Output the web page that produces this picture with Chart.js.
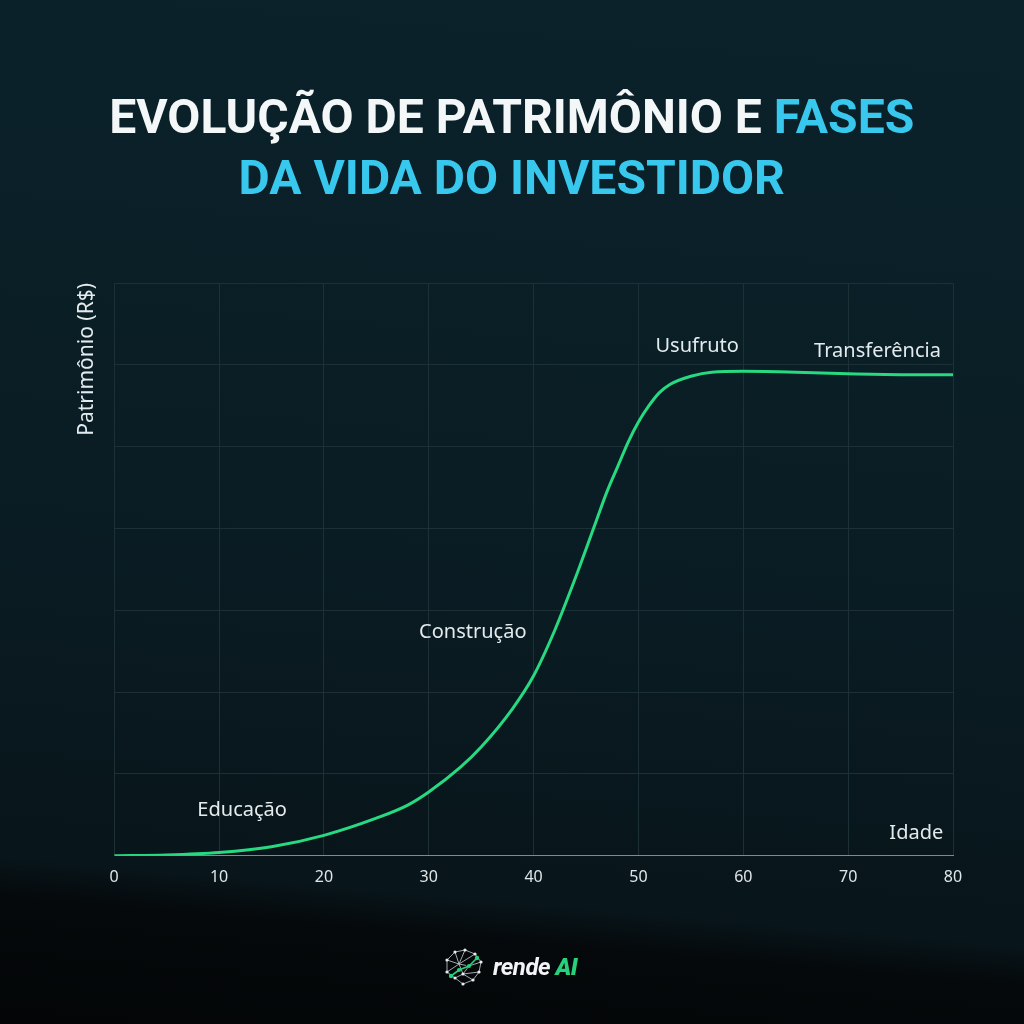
<!DOCTYPE html>
<html>
<head>
<meta charset="utf-8">
<script src="https://cdn.jsdelivr.net/npm/chart.js@4.4.1/dist/chart.umd.min.js"></script>
<style>
  html, body { margin: 0; padding: 0; }
  body {
    width: 1024px; height: 1024px; overflow: hidden; position: relative;
    background: linear-gradient(185deg, #0b222b 0%, #0a1c23 55%, #08151a 85%, #05090b 88.5%, #030506 100%);
    font-family: Roboto, "Noto Sans", sans-serif;
  }
  #title {
    position: absolute; left: 0; top: 86px; width: 1024px; text-align: center;
    font-weight: 700; font-size: 49px; line-height: 61px; color: #f4f7f8;
  }
  #title .ln { display: inline-block; transform: scaleX(0.98); white-space: nowrap; }
  #title .hl { color: #38c8ee; }
  #chart { position: absolute; left: 0; top: 0; }
  #logo {
    position: absolute; left: 441px; top: 946px; height: 42px;
    display: flex; align-items: center; gap: 4px;
  }
  #logo span { font-family: Roboto, sans-serif; font-style: italic; font-weight: 700; font-size: 24px; color: #f2f4f5; letter-spacing: -0.5px; }
  #logo span b { color: #27d07a; }
</style>
</head>
<body>
<div id="title">
  <span class="ln">EVOLUÇÃO DE PATRIMÔNIO E <span class="hl">FASES</span></span><br>
  <span class="ln hl">DA VIDA DO INVESTIDOR</span>
</div>
<canvas id="chart" width="1024" height="1024"></canvas>
<div id="logo">
  <svg width="48" height="42" viewBox="0 0 48 42">
    <g stroke="#c9d0d3" stroke-width="0.8" fill="none">
      <path d="M6 14 L14 6 L24 4 L34 8 L40 16 L38 26 L32 34 L22 38 L14 32 L6 26 Z"/>
      <path d="M14 6 L18 18 L24 4 M18 18 L34 8 M18 18 L6 26 M18 18 L22 28 L32 34 M22 28 L14 32 M22 28 L38 26 M18 18 L28 20 L40 16 M28 20 L22 28 M6 14 L18 18"/>
    </g>
    <g stroke="#27d07a" stroke-width="1.6"><path d="M10 30 L18 24 L28 20 L36 12"/></g>
    <g fill="#e8ecee">
      <circle cx="6" cy="14" r="1.6"/><circle cx="14" cy="6" r="1.6"/><circle cx="24" cy="4" r="1.6"/>
      <circle cx="34" cy="8" r="1.6"/><circle cx="40" cy="16" r="1.6"/><circle cx="38" cy="26" r="1.6"/>
      <circle cx="32" cy="34" r="1.6"/><circle cx="22" cy="38" r="1.6"/><circle cx="14" cy="32" r="1.6"/>
      <circle cx="6" cy="26" r="1.6"/><circle cx="22" cy="28" r="1.6"/>
    </g>
    <g fill="#27d07a"><circle cx="10" cy="30" r="2.2"/><circle cx="18" cy="24" r="2"/><circle cx="28" cy="20" r="2"/><circle cx="36" cy="12" r="2.2"/></g>
  </svg>
  <span>rende <b>AI</b></span>
</div>
<script>
// ages (x) and patrimony (y, arbitrary units)
const ages   = [0, 5, 10, 15, 20, 25, 28, 30, 33, 35, 38, 40, 42, 44, 46, 47, 48, 49, 50, 51, 52, 53, 55, 57, 60, 65, 70, 75, 80];
const wealth = [0, 0.01, 0.04, 0.11, 0.25, 0.46, 0.62, 0.78, 1.08, 1.33, 1.8, 2.2, 2.75, 3.4, 4.1, 4.45, 4.75, 5.05, 5.3, 5.5, 5.66, 5.76, 5.86, 5.91, 5.92, 5.91, 5.89, 5.88, 5.88];
const xTicks = [0, 10, 20, 30, 40, 50, 60, 70, 80];

// phase labels placed in data coordinates
const phaseNames = ['Educação', 'Construção', 'Usufruto', 'Transferência', 'Idade'];
const phaseAge   = [12.2, 34.2, 55.6, 72.8, 76.5];
const phaseVal   = [0.56, 2.73, 6.23, 6.17, 0.28];

const phaseLabels = {
    id: 'phaseLabels',
    afterDatasetsDraw(chart) {
        const { ctx, scales: { x, y } } = chart;
        ctx.save();
        ctx.font = '20px "Noto Sans"';
        ctx.fillStyle = '#e4ebed';
        ctx.textAlign = 'center';
        ctx.textBaseline = 'middle';
        phaseNames.forEach((name, i) => {
            ctx.fillText(name, x.getPixelForValue(phaseAge[i]), y.getPixelForValue(phaseVal[i]));
        });
        ctx.restore();
    }
};

const ctx = document.getElementById('chart').getContext('2d');
new Chart(ctx, {
    type: 'line',
    data: {
        datasets: [{
            data: ages.map((a, i) => ({ x: a, y: wealth[i] })),
            borderColor: '#27d980',
            borderWidth: 3,
            pointRadius: 0,
            cubicInterpolationMode: 'monotone',
            fill: false
        }]
    },
    options: {
        responsive: false,
        animation: false,
        devicePixelRatio: 1,
        layout: { padding: { top: 283, right: 71, bottom: 125, left: 74 } },
        plugins: { legend: { display: false }, tooltip: { enabled: false } },
        scales: {
            x: {
                type: 'linear', min: 0, max: 80,
                afterBuildTicks: axis => { axis.ticks = xTicks.map(v => ({ value: v })); },
                ticks: { color: '#dfe6e8', font: { family: 'Noto Sans', size: 16 }, padding: 12 },
                grid: { color: '#1c3036', drawTicks: false },
                border: { color: '#7f8b8f', width: 1 }
            },
            y: {
                min: 0, max: 7,
                ticks: { display: false, stepSize: 1 },
                grid: { color: '#1c3036', drawTicks: false },
                border: { color: '#1c3036' },
                title: {
                    display: true, text: 'Patrimônio (R$)', align: 'end',
                    color: '#e4ebed', font: { family: 'Noto Sans', size: 21 },
                    padding: { top: 0, bottom: 15 }
                }
            }
        }
    },
    plugins: [phaseLabels]
});
</script>
</body>
</html>
